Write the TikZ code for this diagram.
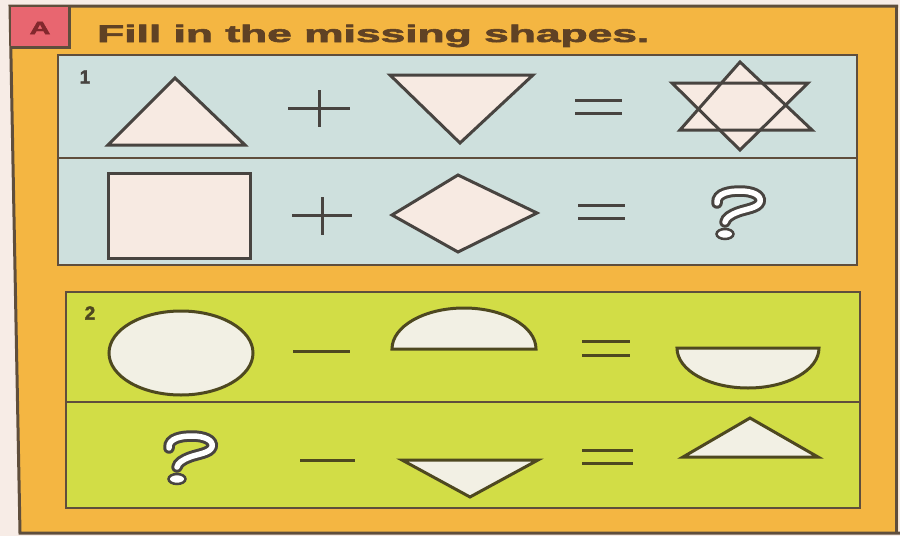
\documentclass[tikz,border=0pt]{standalone}
\usepackage{fontspec}
\setmainfont{Liberation Sans}
\newfontfamily\heavyfont[FakeBold=2.2]{Liberation Sans Bold}
\usepackage{graphicx}
\definecolor{bgpink}{RGB}{247,236,230}
\definecolor{frameorange}{RGB}{244,182,66}
\definecolor{framedark}{RGB}{95,78,60}
\definecolor{apink}{RGB}{232,102,112}
\definecolor{adark}{RGB}{130,40,45}
\definecolor{titlebrown}{RGB}{96,66,36}
\definecolor{panelblue}{RGB}{206,224,221}
\definecolor{panelgreen}{RGB}{210,221,70}
\definecolor{creamA}{RGB}{247,234,226}
\definecolor{creamB}{RGB}{242,240,228}
\definecolor{lineA}{RGB}{72,68,64}
\definecolor{lineB}{RGB}{78,72,32}
\tikzset{
  panelbox/.style={draw=framedark, line width=2.5},
  shapeA/.style={draw=lineA, fill=creamA, line width=3},
  shapeB/.style={draw=lineB, fill=creamB, line width=3},
  opA/.style={draw=lineA, line width=3},
  opB/.style={draw=lineB, line width=3},
  numlabel/.style={font=\heavyfont\fontsize{19}{19}\selectfont, text=lineA, inner sep=0},
  qmark/.pic={
    \draw[line width=11.5, line cap=round, draw=lineA]
      (7,16) .. controls (6,6) and (20,4) .. (30,4)
      .. controls (42,4) and (52,8) .. (50,15)
      .. controls (48,21) and (36,22) .. (28,25)
      .. controls (20,28) and (16,31) .. (15,35);
    \draw[line width=5.5, line cap=round, draw=white]
      (7,16) .. controls (6,6) and (20,4) .. (30,4)
      .. controls (42,4) and (52,8) .. (50,15)
      .. controls (48,21) and (36,22) .. (28,25)
      .. controls (20,28) and (16,31) .. (15,35);
    \draw[draw=lineA, fill=white, line width=2.5] (15,47) ellipse [x radius=8.5, y radius=5];
  }
}
\begin{document}
\begin{tikzpicture}[x=1pt, y=-1pt, line join=miter]
\useasboundingbox (0,0) rectangle (900,536);
\fill[bgpink] (0,0) rectangle (900,536);
% frame
\fill[frameorange] (10,5) -- (898,5) -- (898,533) -- (20,533) -- cycle;
\draw[framedark, line width=3] (898,6) -- (10,6) -- (20,533) -- (900,533);
\draw[framedark, line width=3] (896,5) -- (896,533);
% A box
\fill[apink] (11,7) rectangle (69,46);
\draw[framedark, line width=3] (69,6) -- (69,47) -- (12,47);
\node[text=adark, inner sep=0] (A) at (40,28) {\scalebox{1.6}[1]{\heavyfont\fontsize{18}{18}\selectfont A}};
\node[anchor=base west, text=titlebrown, inner sep=0] (title) at (97,42)
  {\resizebox{552pt}{\height}{\heavyfont\fontsize{24}{24}\selectfont Fill in the missing shapes.}};
% panel 1
\draw[panelbox, fill=panelblue] (58,55) rectangle (857,265);
\draw[panelbox] (58,158) -- (857,158);
\node[numlabel] (n1) at (85,77) {1};
% row 1
\draw[shapeA] (175,78) -- (245,145) -- (108,145) -- cycle;
\draw[opA] (288,108) -- (350,108) (319,90) -- (319,127);
\draw[shapeA] (390,75) -- (533,75) -- (460,143) -- cycle;
\draw[opA] (575,100) -- (622,100) (575,113) -- (622,113);
\fill[creamA] (740,62) -- (812,130) -- (680,130) -- cycle;
\fill[creamA] (672,83) -- (808,83) -- (740,150) -- cycle;
\draw[opA] (740,62) -- (812,130) -- (680,130) -- cycle;
\draw[opA] (672,83) -- (808,83) -- (740,150) -- cycle;
% row 2
\draw[shapeA] (108,173) rectangle (250,258);
\draw[opA] (292,215) -- (352,215) (322,197) -- (322,235);
\draw[shapeA] (392,215) -- (458,175) -- (537,213) -- (458,252) -- cycle;
\draw[opA] (578,205) -- (625,205) (578,218) -- (625,218);
\pic at (710,187) {qmark};
% panel 2
\draw[panelbox, fill=panelgreen] (66,292) rectangle (860,508);
\draw[panelbox] (66,402) -- (860,402);
\node[numlabel, text=lineB] (n2) at (90,313) {2};
% row 1
\draw[shapeB] (181,353) ellipse [x radius=72, y radius=42];
\draw[opB] (293,351) -- (350,351);
\draw[shapeB] (392,349) arc [start angle=180, end angle=360, x radius=72, y radius=41] -- cycle;
\draw[opB] (582,341) -- (630,341) (582,355) -- (630,355);
\draw[shapeB] (677,348) arc [start angle=180, end angle=0, x radius=71, y radius=40] -- cycle;
% row 2
\pic at (162,432) {qmark};
\draw[opB] (300,460) -- (355,460);
\draw[shapeB] (402,460) -- (538,460) -- (470,497) -- cycle;
\draw[opB] (582,450) -- (633,450) (582,463) -- (633,463);
\draw[shapeB] (750,418) -- (818,457) -- (683,457) -- cycle;
\end{tikzpicture}
\end{document}
